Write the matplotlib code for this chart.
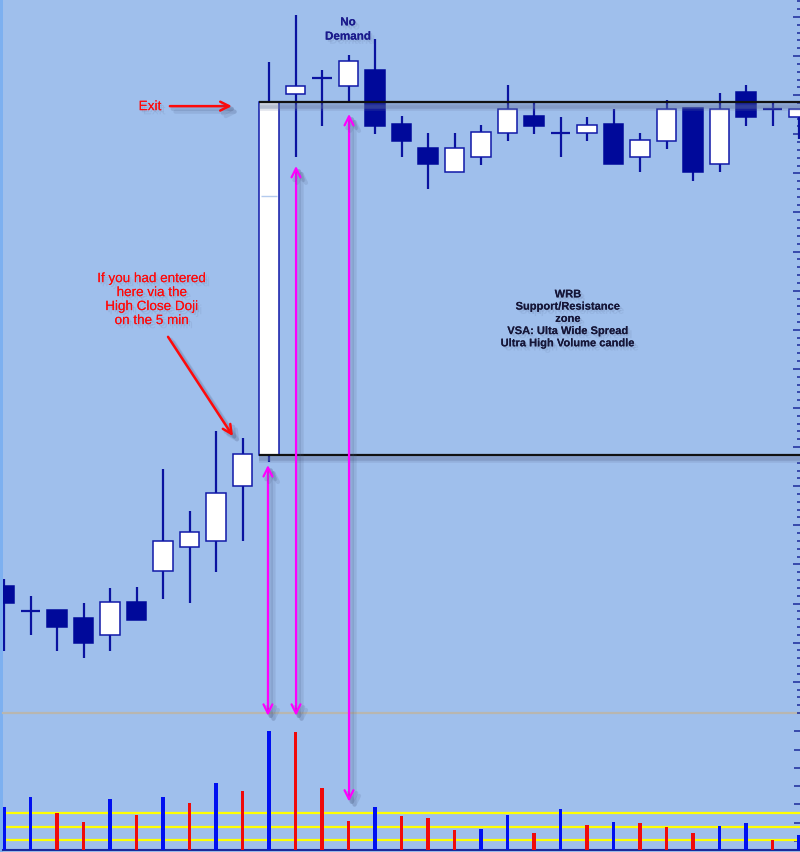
import matplotlib
matplotlib.use("Agg")
import matplotlib.pyplot as plt
import matplotlib.patheffects as pe
from matplotlib.ticker import MultipleLocator, FixedLocator
import numpy as np

plt.rcParams['font.family'] = ['Liberation Sans', 'DejaVu Sans']

# ---------------- data ----------------
opens  = [37.2, 34.0, 34.2, 33.1, 31.0, 35.2, 39.2, 42.2, 43.0, 50.0,
          54.0, 100.2, 102.2, 101.2, 103.2, 96.3, 93.3, 90.2, 92.1, 95.2,
          97.3, 95.2, 95.2, 96.3, 92.1, 94.1, 98.4, 91.2, 100.4, 98.2, 97.2]
highs  = [38.1, 36.0, 34.2, 35.1, 37.0, 37.1, 52.2, 46.8, 57.1, 56.2,
          104.2, 110.3, 103.2, 105.1, 107.2, 97.3, 95.2, 95.2, 96.2, 101.3,
          99.1, 97.2, 97.2, 98.2, 95.2, 99.4, 98.4, 100.3, 101.3, 99.1, 98.2]
lows   = [28.9, 31.0, 28.9, 28.0, 28.9, 32.9, 35.6, 35.1, 39.0, 43.0,
          53.1, 92.1, 96.1, 99.3, 95.0, 92.1, 88.0, 90.2, 91.1, 94.1,
          95.0, 92.1, 94.1, 91.2, 90.2, 93.1, 89.0, 90.2, 96.1, 96.1, 94.4]
closes = [35.1, 34.0, 32.0, 30.0, 35.2, 32.9, 43.0, 44.1, 49.1, 54.1,
          99.1, 101.2, 102.2, 104.4, 96.1, 94.1, 91.2, 93.3, 95.3, 98.2,
          96.1, 95.2, 96.2, 91.2, 94.3, 98.2, 90.2, 98.2, 97.2, 98.2, 98.2]

volumes = [4700, 5800, 4100, 3100, 5600, 3800, 5800, 5200, 7300, 6500,
           13000, 12900, 6800, 3200, 4700, 3700, 3500, 2200, 2300, 3800,
           1900, 4500, 2700, 3100, 3000, 2500, 1900, 2600, 3000, 1100, 1600]
vol_colors = ['B', 'B', 'R', 'R', 'B', 'R', 'B', 'R', 'B', 'R',
              'B', 'R', 'R', 'R', 'B', 'R', 'R', 'R', 'B', 'B',
              'R', 'B', 'R', 'B', 'R', 'R', 'R', 'B', 'B', 'R', 'B']
vol_bands = [4050, 2520, 1100]

resistance = 99.1
support = 54.0
wrb_index = 10
wrb_mark = 87.1

# ---------------- style ----------------
BG = '#9fbfec'
NAVY = '#00099a'
WICK = '#0a12a0'
MAGENTA = '#ff00ff'
RED = '#ff0a0a'
SHADOW = '#4a5a80'

W, H = 800, 853
fig = plt.figure(figsize=(W / 100, H / 100), dpi=100, facecolor=BG)

left_px = 3
ax_v = fig.add_axes([left_px / W, (H - 851) / H, (W - left_px) / W, (851 - 714) / H])
ax_p = fig.add_axes([left_px / W, (H - 714) / H, (W - left_px) / W, 714 / H])
ax_v.set_zorder(1)
ax_p.set_zorder(2)

# left window strip
fig.patches.append(plt.Rectangle((0, 0), left_px / W, 1, transform=fig.transFigure,
                                 facecolor='#7db0f0', edgecolor='none', zorder=0))

px_per_idx = 26.5
x_left = (left_px - 4) / px_per_idx
x_right = (W - 4) / px_per_idx

for ax in (ax_p, ax_v):
    ax.set_facecolor(BG)
    ax.set_xlim(x_left, x_right)
    for s in ax.spines.values():
        s.set_visible(False)
    ax.set_xticks([])
ax_p.patch.set_visible(False)

ax_p.set_ylim(21.0, 112.3)
ax_v.set_ylim(0, 15000)

# ---------------- candles ----------------
idx = np.arange(len(opens))
body_w = 0.72
ax_p.vlines(idx, lows, highs, color=WICK, lw=1.6, zorder=2)
for i in idx:
    o, c = opens[i], closes[i]
    if o == c:
        ax_p.hlines(o, i - body_w / 2, i + body_w / 2, color=WICK, lw=1.6, zorder=3)
    else:
        bull = c > o
        ax_p.bar(i, abs(c - o), bottom=min(o, c), width=body_w,
                 color='white' if bull else NAVY,
                 edgecolor='#1018a8' if bull else NAVY, lw=1.1, zorder=3)
ax_p.hlines(wrb_mark, wrb_index - body_w / 2 + 0.04, wrb_index + body_w / 2 - 0.04,
            color='#b4cbee', lw=1.0, zorder=4)

# support / resistance lines
line_fx = [pe.SimpleLineShadow(offset=(0, -2.5), shadow_color='#6677a0', alpha=0.35, linewidth=4),
           pe.SimpleLineShadow(offset=(0, -4), shadow_color='#6677a0', alpha=0.2, linewidth=4),
           pe.Normal()]
for lvl in (resistance, support):
    ax_p.plot([wrb_index - body_w / 2, x_right + 1], [lvl, lvl], color='#111111', lw=1.6,
              zorder=5, path_effects=line_fx, solid_capstyle='butt')

# price ticks
ax_p.yaxis.tick_right()
ax_p.yaxis.set_major_locator(MultipleLocator(5))
ax_p.yaxis.set_minor_locator(MultipleLocator(1))
ax_p.tick_params(axis='y', which='major', direction='in', length=5.2, width=1.1,
                 color='#1a2a9a', labelright=False, labelleft=False)
ax_p.tick_params(axis='y', which='minor', direction='in', length=2.4, width=1.1,
                 color='#1a2a9a')

# ---------------- volume ----------------
cmap = {'B': '#0010f0', 'R': '#f00a0a'}
ax_v.bar(idx, volumes, width=0.15, color=[cmap[c] for c in vol_colors], zorder=3)
for b in vol_bands:
    ax_v.axhline(b, color='#ffff00', lw=1.6, zorder=2)
ax_v.spines['bottom'].set_visible(True)
ax_v.spines['bottom'].set_color('#1a2a9a')
ax_v.spines['bottom'].set_linewidth(1.5)
ax_v.spines['top'].set_visible(True)
ax_v.spines['top'].set_color('#b8b6b0')
ax_v.spines['top'].set_linewidth(1.6)
ax_v.yaxis.tick_right()
ax_v.yaxis.set_major_locator(FixedLocator(np.arange(1000, 15000, 2000)))
ax_v.tick_params(axis='y', direction='in', length=4.5, width=1.1, color='#1a2a9a',
                 labelright=False, labelleft=False)

# ---------------- annotations ----------------
arrow_fx = [pe.SimpleLineShadow(offset=(2, -2), shadow_color=SHADOW, alpha=0.18, linewidth=3),
            pe.SimpleLineShadow(offset=(4, -4), shadow_color=SHADOW, alpha=0.14, linewidth=3),
            pe.Normal()]
text_fx = [pe.withSimplePatchShadow(offset=(1.5, -1.5), shadow_rgbFace=SHADOW, alpha=0.14),
           pe.SimplePatchShadow(offset=(3, -3), shadow_rgbFace=SHADOW, alpha=0.10),
           pe.Normal()]

# magenta double arrows spanning price and volume panels
mag_arrows = [(9.96, 52.7, 14700), (11.02, 90.95, 14700), (13.02, 97.6, 5300)]
for xa, ptop, vbot in mag_arrows:
    ax_p.annotate('', xy=(xa, vbot), xycoords=ax_v.transData,
                  xytext=(xa, ptop), textcoords=ax_p.transData,
                  arrowprops=dict(arrowstyle='<->', color=MAGENTA, lw=1.6,
                                  mutation_scale=16, shrinkA=0, shrinkB=0,
                                  path_effects=arrow_fx),
                  annotation_clip=False, zorder=6)

# exit arrow
ax_p.annotate('', xy=(8.60, 98.6), xytext=(6.26, 98.6),
              arrowprops=dict(arrowstyle='->', color=RED, lw=1.8, mutation_scale=16,
                              shrinkA=0, shrinkB=0, path_effects=arrow_fx), zorder=6)
ax_p.text(5.51, 98.6, 'Exit', color=RED, fontsize=9.8, ha='center', va='center',
          path_effects=text_fx, zorder=7)

# entry arrow & text
ax_p.annotate('', xy=(8.64, 56.4), xytext=(6.19, 69.1),
              arrowprops=dict(arrowstyle='->', color=RED, lw=1.8, mutation_scale=16,
                              shrinkA=0, shrinkB=0, path_effects=arrow_fx), zorder=6)
ax_p.text(5.58, 73.8, 'If you had entered\nhere via the\nHigh Close Doji\non the 5 min',
          color=RED, fontsize=9.7, ha='center', va='center', linespacing=1.22,
          path_effects=text_fx, zorder=7)

# No Demand
ax_p.text(12.98, 108.4, 'No\nDemand', color='#1a1a8c', fontsize=8.4, fontweight='bold',
          ha='center', va='center', linespacing=1.25, path_effects=text_fx, zorder=7)

# WRB zone text
ax_p.text(21.28, 71.4,
          'WRB\nSupport/Resistance\nzone\nVSA: Ulta Wide Spread\nUltra High Volume candle',
          color='#161638', fontsize=8, fontweight='bold', ha='center', va='center',
          linespacing=1.28, path_effects=text_fx, zorder=7)

fig.savefig('out.png', dpi=100, facecolor=BG)
